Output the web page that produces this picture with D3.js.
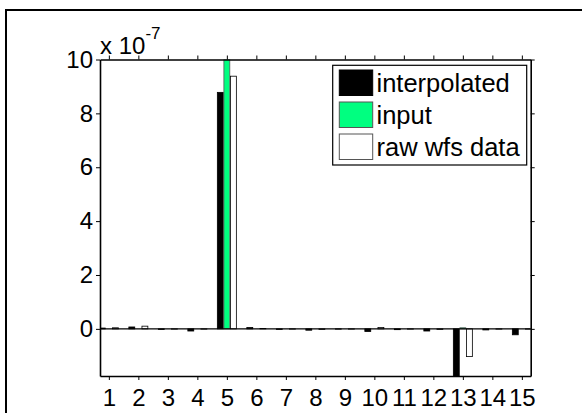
<!DOCTYPE html>
<html>
<head>
<meta charset="utf-8">
<script src="https://cdn.jsdelivr.net/npm/d3@7"></script>
<style>
  body { margin: 0; background: #fff; }
  text { font-family: "Liberation Sans", Arial, sans-serif; fill: #000; }
</style>
</head>
<body>
<div id="chart"></div>
<script>
// mode numbers along the x axis
const modes = [1, 2, 3, 4, 5, 6, 7, 8, 9, 10, 11, 12, 13, 14, 15];
// values in units of 1e-7
const interpolated = [0.03, 0.07, -0.02, -0.08, 8.78, 0.05, -0.02, -0.05, -0.01, -0.10, -0.03, -0.08, -2.5, -0.04, -0.22];
const input        = [0.00, 0.00, 0.00, 0.00, 10.0, 0.00, 0.00, 0.00, 0.00, 0.00, 0.00, 0.00, 0.04, 0.00, 0.00];
const rawWfs       = [0.04, 0.10, -0.01, -0.01, 9.38, 0.01, -0.01, -0.02, -0.01, 0.05, -0.01, -0.02, -1.03, -0.01, -0.01];
const yTicks = [0, 2, 4, 6, 8, 10];
const seriesNames = ["interpolated", "input", "raw wfs data"];

const W = 582, H = 413;
const plot = { left: 100, right: 530.7, top: 59.5, bottom: 376 };

const svg = d3.select("#chart").append("svg")
    .attr("width", W).attr("height", H);

// outer figure frame
svg.append("rect")
    .attr("x", 6).attr("y", 10).attr("width", 600).attr("height", 420)
    .attr("fill", "none").attr("stroke", "#000").attr("stroke-width", 2);

const x = d3.scaleLinear().domain([0.7, 15.3]).range([plot.left, plot.right]);
const y = d3.scaleLinear().domain([-1.75, 10]).range([plot.bottom, plot.top]);

svg.append("clipPath").attr("id", "plot-clip")
    .append("rect")
    .attr("x", plot.left).attr("y", plot.top)
    .attr("width", plot.right - plot.left).attr("height", plot.bottom - plot.top);

// bars, grouped in three slots per mode
const series = [
    { values: interpolated, fill: "#000", stroke: "#000" },
    { values: input, fill: "#00ff80", stroke: "#555" },
    { values: rawWfs, fill: "#fff", stroke: "#000" }
];
const slot = 2 / 9;      // 3 bars over 2/3 of a unit
const barW = 0.2;

const bars = svg.append("g").attr("clip-path", "url(#plot-clip)");
series.forEach((s, i) => {
    const off = (i - 1) * slot;
    bars.selectAll(null)
        .data(modes.map((m, j) => ({ m, v: s.values[j] })))
        .enter().append("rect")
        .attr("x", d => x(d.m + off - barW / 2))
        .attr("width", x(barW) - x(0))
        .attr("y", d => y(Math.max(0, d.v)))
        .attr("height", d => Math.abs(y(d.v) - y(0)))
        .attr("fill", s.fill)
        .attr("stroke", s.stroke)
        .attr("stroke-width", 0.8);
});

// baseline
svg.append("line")
    .attr("x1", plot.left).attr("x2", plot.right)
    .attr("y1", y(0)).attr("y2", y(0))
    .attr("stroke", "#000").attr("stroke-width", 1.2);

// axes
const axisStyle = g => {
    g.select(".domain").attr("stroke", "#000").attr("stroke-width", 1.6);
    g.selectAll(".tick line").attr("stroke", "#000").attr("stroke-width", 1);
    g.selectAll("text").style("font-size", "24px")
        .style("font-family", "'Liberation Sans', Arial, sans-serif");
};

svg.append("g")
    .attr("transform", `translate(0,${plot.bottom})`)
    .call(d3.axisBottom(x).tickValues(modes).tickSize(4).tickSizeOuter(0).tickPadding(9))
    .call(axisStyle);

svg.append("g")
    .attr("transform", `translate(0,${plot.top})`)
    .call(d3.axisTop(x).tickValues(modes).tickSize(4).tickSizeOuter(0).tickFormat(""))
    .call(axisStyle);

svg.append("g")
    .attr("transform", `translate(${plot.left},0)`)
    .call(d3.axisLeft(y).tickValues(yTicks).tickSize(4).tickSizeOuter(0).tickPadding(3))
    .call(axisStyle);

svg.append("g")
    .attr("transform", `translate(${plot.right},0)`)
    .call(d3.axisRight(y).tickValues(yTicks).tickSize(4).tickSizeOuter(0).tickFormat(""))
    .call(axisStyle);

// exponent label
const expo = svg.append("text").attr("x", plot.left).attr("y", 54).style("font-size", "24px");
expo.append("tspan").text("x 10");
expo.append("tspan").attr("dy", -15).style("font-size", "17px").text("-7");

// legend
const lg = svg.append("g");
lg.append("rect")
    .attr("x", 332.7).attr("y", 65.3).attr("width", 194).attr("height", 99.7)
    .attr("fill", "#fff").attr("stroke", "#000").attr("stroke-width", 1.2);
seriesNames.forEach((name, i) => {
    const yy = 70 + i * 32;
    lg.append("rect")
        .attr("x", 339.3).attr("y", yy).attr("width", 33.4).attr("height", 25.5)
        .attr("fill", series[i].fill).attr("stroke", i === 0 ? "#000" : "#555")
        .attr("stroke-width", 1);
    lg.append("text")
        .attr("x", 376.5).attr("y", yy + 22)
        .style("font-size", "25.5px")
        .text(name);
});
</script>
</body>
</html>
